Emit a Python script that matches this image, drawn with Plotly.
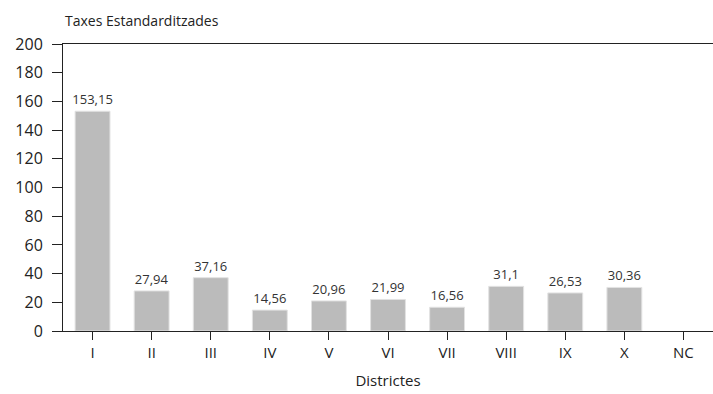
import plotly.graph_objects as go

districtes = ["I", "II", "III", "IV", "V", "VI", "VII", "VIII", "IX", "X", "NC"]
taxes = [153.15, 27.94, 37.16, 14.56, 20.96, 21.99, 16.56, 31.1, 26.53, 30.36, None]
y_ticks = [0, 20, 40, 60, 80, 100, 120, 140, 160, 180, 200]

# Catalan-style decimal comma on the value labels
etiquetes = ["" if v is None else f"{v:g}".replace(".", ",") for v in taxes]

FONT = "Open Sans"
INK = "#222222"

fig = go.Figure(
    go.Bar(
        x=districtes,
        y=taxes,
        text=etiquetes,
        textposition="outside",
        constraintext="none",
        textfont=dict(family=FONT, size=13, color="#333333"),
        cliponaxis=False,
        marker=dict(color="#BBBBBB", line=dict(color="#E2E2E2", width=1)),
        hoverinfo="skip",
    )
)

fig.update_layout(
    width=713,
    height=394,
    margin=dict(l=63, r=0, t=44, b=63),
    paper_bgcolor="white",
    plot_bgcolor="white",
    bargap=0.41,
    showlegend=False,
    font=dict(family=FONT, color=INK),
    annotations=[
        dict(
            text="Taxes Estandarditzades",
            xref="paper", yref="paper",
            x=0, y=1, yshift=24,
            xanchor="left", yanchor="middle",
            showarrow=False,
            font=dict(family=FONT, size=14, color=INK),
        )
    ],
)

fig.update_xaxes(
    type="category",
    range=[-0.5, len(districtes) - 0.5],
    showline=True,
    linecolor=INK,
    linewidth=1,
    mirror=True,
    ticks="outside",
    ticklen=8,
    tickcolor=INK,
    tickfont=dict(family=FONT, size=15, color=INK),
    showgrid=False,
    title=dict(text="Districtes", font=dict(family=FONT, size=15, color=INK), standoff=14),
)

fig.update_yaxes(
    range=[0, 200],
    tickvals=y_ticks,
    showline=True,
    linecolor=INK,
    linewidth=1,
    ticks="outside",
    ticklen=10,
    tickcolor=INK,
    ticklabelstandoff=6,
    tickfont=dict(family=FONT, size=16, color=INK),
    showgrid=False,
    zeroline=False,
)

fig.write_html("out.html")
